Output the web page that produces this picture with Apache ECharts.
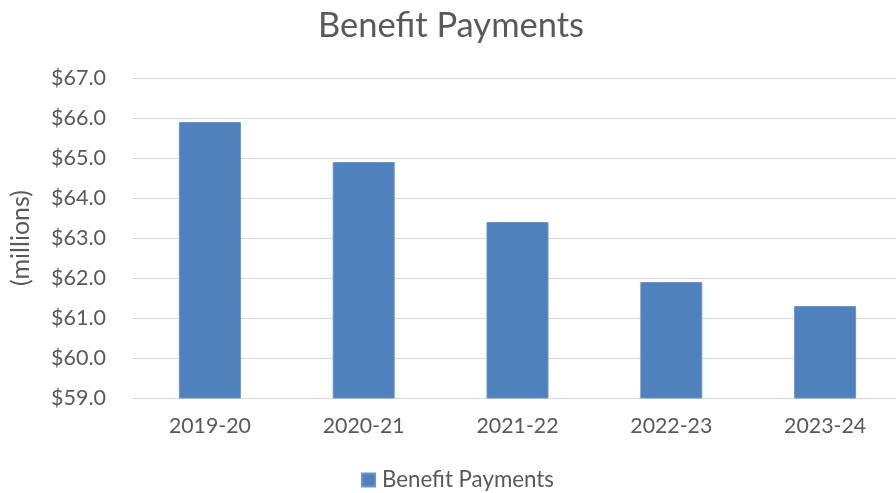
<!DOCTYPE html>
<html><head><meta charset="utf-8">
<script src="https://cdn.jsdelivr.net/npm/echarts@6/dist/echarts.min.js"></script>
<style>html,body{margin:0;padding:0;background:#fff;overflow:hidden;width:896px;height:493px}#c{width:902px;height:493px}</style>
</head><body><div id="c"></div>
<script>
const categories = ['2019-20','2020-21','2021-22','2022-23','2023-24'];
const benefitPayments = [65.9, 64.9, 63.4, 61.9, 61.3];
const seriesName = 'Benefit Payments';
const titleText = 'Benefit Payments';
const yAxisName = '(millions)';

const FONT = 'Lato';
const chart = echarts.init(document.getElementById('c'));
chart.setOption({
  animation: false,
  textStyle: { fontFamily: FONT },
  title: { text: titleText, left: 'center', top: 3,
    textStyle: { fontFamily: FONT, fontSize: 34.5, fontWeight: 'normal', color: '#595959' } },
  legend: { top: 464, left: 356, itemWidth: 13, itemHeight: 13, icon: 'rect', itemGap: 10,
    textStyle: { fontFamily: FONT, fontSize: 22.3, color: '#595959', padding: [0, 0, 0, 2] }, data: [seriesName] },
  grid: { left: 133, top: 78, right: 0, height: 320, containLabel: false },
  xAxis: { type: 'category', data: categories,
    axisLine: { lineStyle: { color: '#d9d9d9', width: 1 } }, axisTick: { show: false },
    axisLabel: { fontFamily: FONT, fontSize: 21.3, color: '#595959', margin: 18 } },
  yAxis: { type: 'value', min: 59, max: 67, interval: 1,
    name: yAxisName, nameLocation: 'middle', nameGap: 100, nameRotate: 90,
    nameTextStyle: { fontFamily: FONT, fontSize: 25, color: '#595959' },
    axisLine: { show: false }, axisTick: { show: false },
    splitLine: { lineStyle: { color: '#d9d9d9', width: 1 } },
    axisLabel: { fontFamily: FONT, fontSize: 21.5, color: '#595959', margin: 27,
      formatter: v => '$' + v.toFixed(1) } },
  series: [{ name: seriesName, type: 'bar', data: benefitPayments, barWidth: 62,
    itemStyle: { color: '#4F81BD', borderColor: '#6b95c9', borderWidth: 1 } }]
});
</script></body></html>
